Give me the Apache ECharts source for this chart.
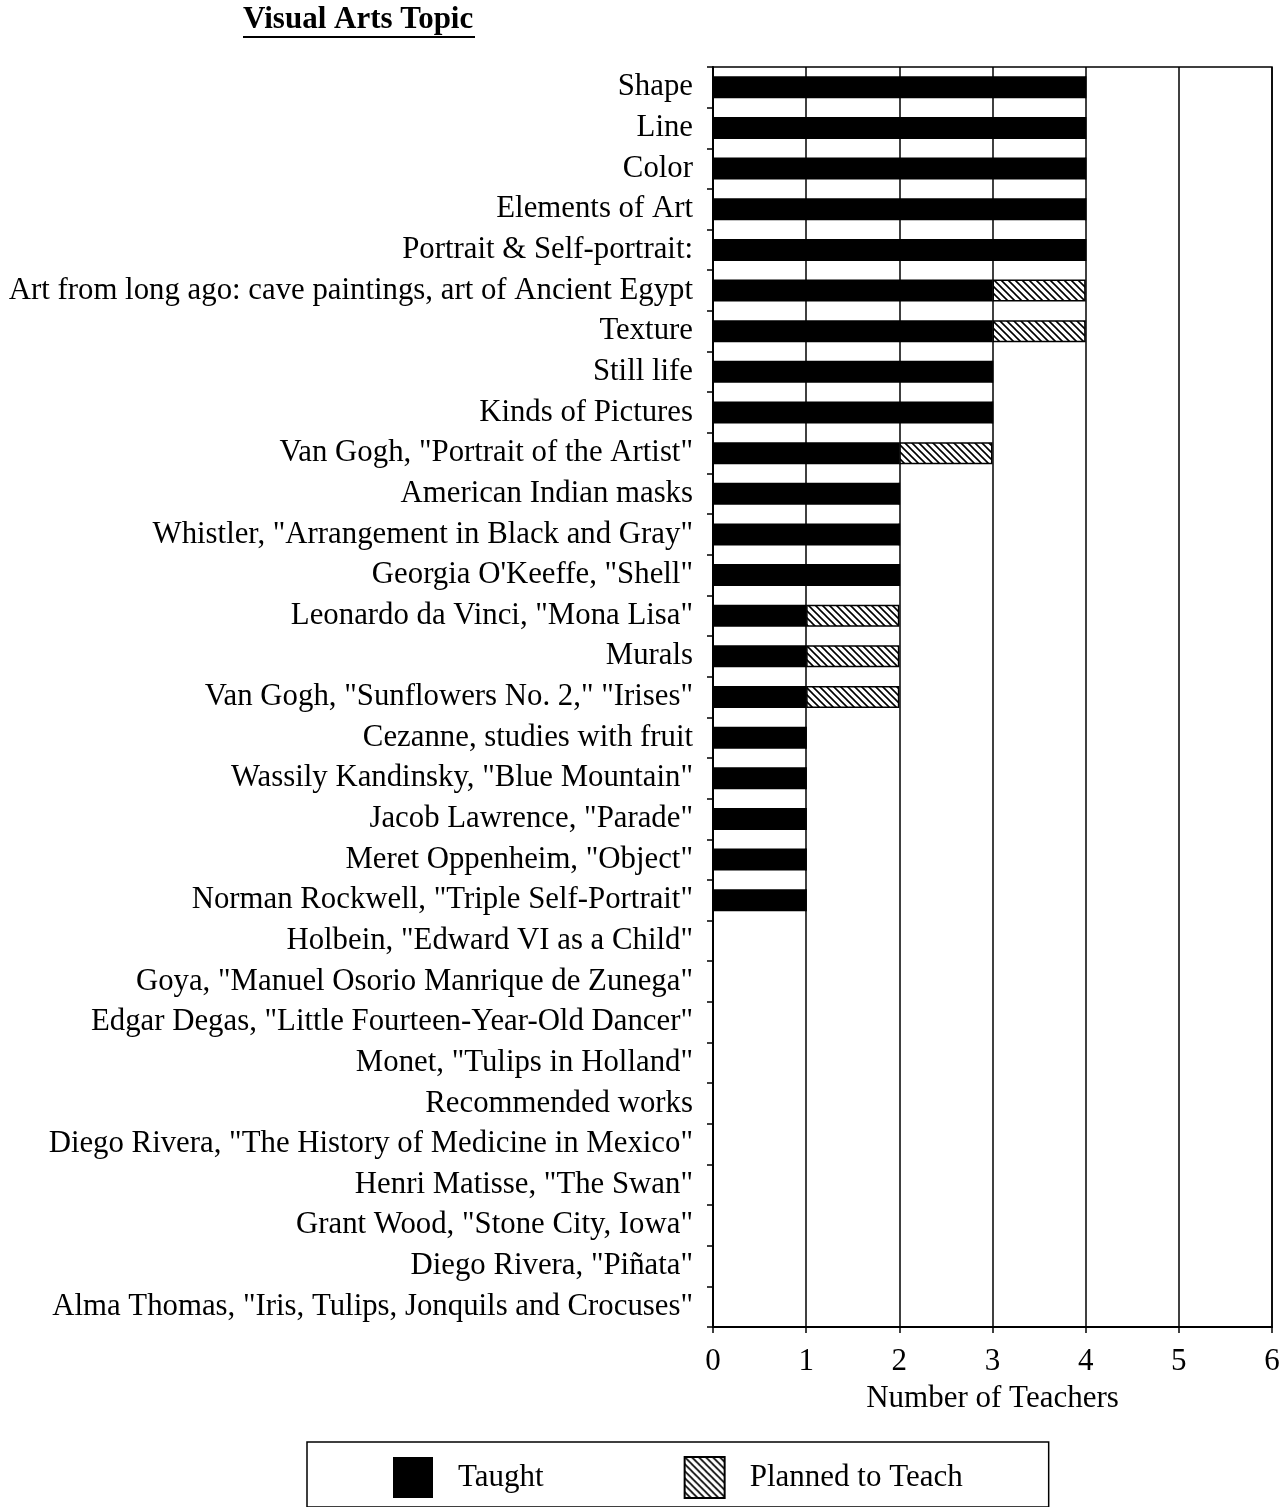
<!DOCTYPE html>
<html>
<head>
<meta charset="utf-8">
<script src="https://cdn.jsdelivr.net/npm/echarts@6/dist/echarts.min.js"></script>
<style>
  html, body { margin: 0; padding: 0; background: #fff; }
  #chart { width: 1284px; height: 1507px; }
</style>
</head>
<body>
<div id="chart"></div>
<script>
const categories = [
  'Shape', 'Line', 'Color', 'Elements of Art', 'Portrait & Self-portrait:',
  'Art from long ago: cave paintings, art of Ancient Egypt', 'Texture', 'Still life',
  'Kinds of Pictures', 'Van Gogh, "Portrait of the Artist"', 'American Indian masks',
  'Whistler, "Arrangement in Black and Gray"', 'Georgia O\'Keeffe, "Shell"',
  'Leonardo da Vinci, "Mona Lisa"', 'Murals', 'Van Gogh, "Sunflowers No. 2," "Irises"',
  'Cezanne, studies with fruit', 'Wassily Kandinsky, "Blue Mountain"',
  'Jacob Lawrence, "Parade"', 'Meret Oppenheim, "Object"',
  'Norman Rockwell, "Triple Self-Portrait"', 'Holbein, "Edward VI as a Child"',
  'Goya, "Manuel Osorio Manrique de Zunega"', 'Edgar Degas, "Little Fourteen-Year-Old Dancer"',
  'Monet, "Tulips in Holland"', 'Recommended works',
  'Diego Rivera, "The History of Medicine in Mexico"', 'Henri Matisse, "The Swan"',
  'Grant Wood, "Stone City, Iowa"', 'Diego Rivera, "Piñata"',
  'Alma Thomas, "Iris, Tulips, Jonquils and Crocuses"'
];
const taught  = [4,4,4,4,4,3,3,3,3,2,2,2,2,1,1,1,1,1,1,1,1,0,0,0,0,0,0,0,0,0,0];
const planned = [0,0,0,0,0,1,1,0,0,1,0,0,0,1,1,1,0,0,0,0,0,0,0,0,0,0,0,0,0,0,0];
const xTicks = [0,1,2,3,4,5,6];

function hatch() {
  const s = 7;
  const c = document.createElement('canvas');
  c.width = s; c.height = s;
  const g = c.getContext('2d');
  g.fillStyle = '#fff'; g.fillRect(0,0,s,s);
  g.strokeStyle = '#000'; g.lineWidth = 1.6;
  g.beginPath();
  g.moveTo(-1,-1); g.lineTo(s+1,s+1);
  g.moveTo(-1,s-1); g.lineTo(1,s+1);
  g.moveTo(s-1,-1); g.lineTo(s+1,1);
  g.stroke();
  return c;
}

const FONT = '"Liberation Serif", "Times New Roman", serif';
const chart = echarts.init(document.getElementById('chart'), null, {renderer: 'canvas'});
chart.setOption({
  animation: false,
  backgroundColor: '#fff',
  title: {
    text: 'Visual Arts Topic',
    left: 243, top: 4, padding: 0,
    textStyle: { fontFamily: FONT, fontWeight: 'bold', fontSize: 31, color: '#000' }
  },
  graphic: [{
    type: 'line', shape: { x1: 243, y1: 37, x2: 475, y2: 37 },
    style: { stroke: '#000', lineWidth: 2 }
  }],
  legend: {
    left: 307, top: 1442,
    orient: 'horizontal',
    padding: [14, 86, 8, 86],
    itemWidth: 40, itemHeight: 41, itemGap: 140,
    icon: 'rect',
    borderColor: '#000', borderWidth: 1.5,
    textStyle: { fontFamily: FONT, fontSize: 31, color: '#000', padding: [0,0,0,20] },
    data: ['Taught', 'Planned to Teach']
  },
  grid: {
    left: 713, right: 12, top: 67, bottom: 180,
    show: true, borderColor: '#000', borderWidth: 1.5, containLabel: false
  },
  xAxis: {
    type: 'value', min: 0, max: 6, interval: 1,
    data: xTicks,
    name: 'Number of Teachers', nameLocation: 'middle', nameGap: 56,
    nameTextStyle: { fontFamily: FONT, fontSize: 31, color: '#000' },
    axisLine: { show: true, lineStyle: { color: '#000', width: 2 } },
    axisTick: { show: true, length: 6, lineStyle: { color: '#000', width: 1.5 } },
    axisLabel: { fontFamily: FONT, fontSize: 31, color: '#000', margin: 19 },
    splitLine: { show: true, lineStyle: { color: '#000', width: 1.5 } }
  },
  yAxis: {
    type: 'category', data: categories, inverse: true,
    axisLine: { show: true, lineStyle: { color: '#000', width: 2 } },
    axisTick: { show: true, length: 6, lineStyle: { color: '#000', width: 1.5 } },
    axisLabel: { fontFamily: FONT, fontSize: 30.8, color: '#000', margin: 20, interval: 0 },
    splitLine: { show: false }
  },
  series: [
    {
      name: 'Taught', type: 'bar', stack: 'a', data: taught, barWidth: 22,
      itemStyle: { color: '#000' }
    },
    {
      name: 'Planned to Teach', type: 'bar', stack: 'a', data: planned, barWidth: 22,
      itemStyle: { color: { image: hatch(), repeat: 'repeat' }, borderColor: '#000', borderWidth: 1.5 }
    }
  ]
});
</script>
</body>
</html>
